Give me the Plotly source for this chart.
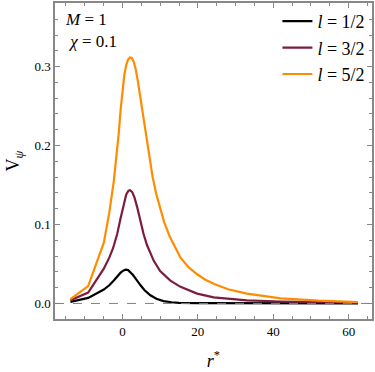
import plotly.graph_objects as go

# ---- data ----
r_l1 = [-13.8, -9.1, -4.95, -3.5, -2.3, -1.4, -0.5, 0.3, 0.9, 1.5, 2.1, 2.8, 3.4, 4.1, 4.8, 5.8, 7.4, 9.0,
        10.9, 13.0, 15.0, 20.0, 30.0, 62.5]
v_l1 = [0.002, 0.007, 0.0176, 0.023, 0.029, 0.034, 0.039, 0.0418, 0.0427, 0.0422, 0.0396, 0.036, 0.032, 0.027,
        0.023, 0.017, 0.0104, 0.006, 0.003, 0.0015, 0.0008, 0.0003, 0.0001, 0.0]

r_l3 = [-13.8, -9.1, -4.95, -3.5, -2.5, -1.4, -0.5, 0.3, 1.0, 1.6, 2.0, 2.6, 3.2, 3.9, 4.7, 5.6, 6.5, 7.4, 8.3,
        10.0, 12.7, 15.4, 19.8, 24.2, 33.0, 42.0, 62.5]
v_l3 = [0.004, 0.0138, 0.044, 0.058, 0.07, 0.088, 0.108, 0.126, 0.138, 0.1428, 0.1434, 0.141, 0.134, 0.122, 0.105,
        0.088, 0.074, 0.063, 0.054, 0.041, 0.029, 0.021, 0.0125, 0.0078, 0.004, 0.0025, 0.001]

r_l5 = [-13.8, -9.1, -4.95, -3.5, -2.3, -1.6, -1.0, -0.5, 0.0, 0.5, 1.0, 1.5, 2.0, 2.5, 3.0, 3.5, 4.0, 4.7, 5.5,
        6.3, 7.2, 8.0, 9.0, 10.0, 11.0, 12.5, 14.0, 15.4, 17.5, 19.8, 22.0, 24.2, 28.0, 33.0, 42.0, 52.0, 62.5]
v_l5 = [0.0054, 0.022, 0.077, 0.115, 0.155, 0.185, 0.215, 0.245, 0.27, 0.29, 0.302, 0.309, 0.3115, 0.311, 0.306,
        0.297, 0.284, 0.262, 0.235, 0.208, 0.182, 0.16, 0.138, 0.12, 0.104, 0.085, 0.07, 0.058, 0.046, 0.037,
        0.03, 0.025, 0.018, 0.0125, 0.0065, 0.0035, 0.0018]

labels = ["<i>l</i> = 1/2", "<i>l</i> = 3/2", "<i>l</i> = 5/2"]
colors = ["#000000", "#7d1c3c", "#ff8c00"]

SERIF = "'Liberation Serif', 'DejaVu Serif', serif"
FRAME = "#888888"

fig = go.Figure()
for r, v, name, c in zip([r_l1, r_l3, r_l5], [v_l1, v_l3, v_l5], labels, colors):
    fig.add_trace(go.Scatter(x=r, y=v, mode="lines", name=name,
                             line=dict(color=c, width=2.2)))

# dashed zero line
fig.add_hline(y=0, line=dict(color="#808080", width=1, dash="dash"))

fig.add_annotation(x=0.025, y=0.985, xref="paper", yref="paper", xanchor="left", yanchor="top",
                   text="<i>M</i> = 1<br> <i>χ</i> = 0.1", showarrow=False, align="left",
                   font=dict(size=17, color="black"))

axis_common = dict(showline=True, linecolor=FRAME, linewidth=1.5, mirror="allticks",
                   ticks="inside", ticklen=5, tickcolor=FRAME, tickwidth=1,
                   showgrid=False, zeroline=False,
                   tickfont=dict(size=13, color="black"))

fig.update_xaxes(range=[-17.9, 66.2], tickvals=[0, 20, 40, 60],
                 minor=dict(dtick=5, tick0=0, ticks="inside", ticklen=3, tickcolor=FRAME),
                 title=dict(text="<i>r</i><sup>*</sup>", font=dict(size=18, color="black"),
                            standoff=16),
                 **axis_common)
fig.update_yaxes(range=[-0.0197, 0.3806], tickvals=[0, 0.1, 0.2, 0.3], ticktext=["0.0", "0.1", "0.2", "0.3"],
                 minor=dict(dtick=0.02, tick0=0, ticks="inside", ticklen=3, tickcolor=FRAME),
                 title=dict(text="V<sub><i>ψ</i></sub>", font=dict(size=18, color="black"),
                            standoff=10),
                 **axis_common)

fig.update_layout(
    width=375, height=372,
    margin=dict(l=55, r=3, t=1, b=53),
    font=dict(family=SERIF),
    plot_bgcolor="white", paper_bgcolor="white",
    legend=dict(x=0.995, y=1.0, xanchor="right", yanchor="top", bgcolor="rgba(0,0,0,0)",
                font=dict(size=18, color="black"), tracegroupgap=0,
                itemwidth=30),
)

# the page body has a default margin; remove it so the figure sits at the window corner
fig.write_html("out.html", config={"displayModeBar": False},
               post_script="document.body.style.margin='0';")
